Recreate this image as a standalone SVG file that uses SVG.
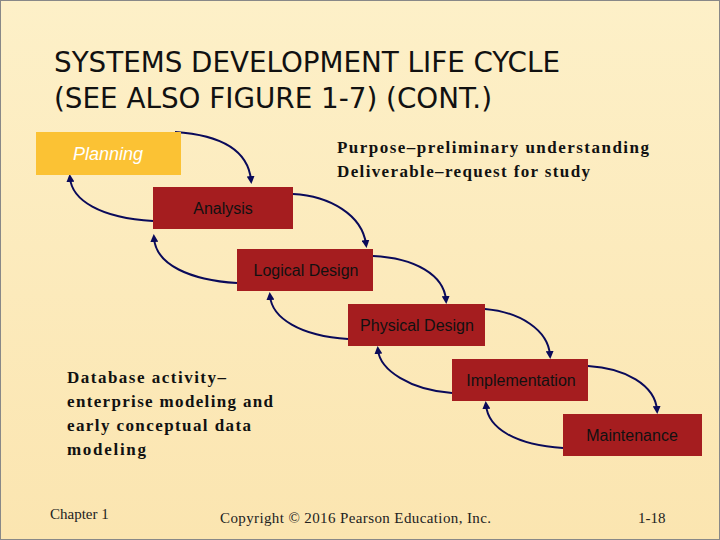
<svg xmlns="http://www.w3.org/2000/svg" width="720" height="540" viewBox="0 0 720 540">
<defs>
<linearGradient id="bg" x1="0" y1="0" x2="0" y2="1"><stop offset="0" stop-color="#fdf0c8"/><stop offset="1" stop-color="#fbe5b0"/></linearGradient>
<marker id="ah" markerWidth="4" markerHeight="4" refX="2" refY="2" orient="auto"><path d="M0,0 L4,2 L0,4 Z" fill="#0a0a5a"/></marker>
</defs>
<style>
.box{fill:#a51d1f}
.bt{font-family:"Liberation Sans",Arial,sans-serif;font-size:16px;fill:#111;text-anchor:middle}
.c{fill:none;stroke:#0a0a5a;stroke-width:2;marker-end:url(#ah)}
.s{font-family:"Liberation Serif","Times New Roman",serif;font-size:17px;font-weight:bold;fill:#111}
.f{font-family:"Liberation Serif","Times New Roman",serif;font-size:15px;fill:#222}
</style>
<rect width="720" height="540" fill="url(#bg)"/>
<rect x="0.5" y="0.5" width="719" height="539" fill="none" stroke="#888" stroke-width="1"/>
<text x="54" y="72" font-family="'DejaVu Sans Condensed','Liberation Sans',Arial,sans-serif" font-size="28" fill="#111" textLength="506" lengthAdjust="spacingAndGlyphs">SYSTEMS DEVELOPMENT LIFE CYCLE</text>
<text x="54" y="108" font-family="'DejaVu Sans Condensed','Liberation Sans',Arial,sans-serif" font-size="28" fill="#111" textLength="438" lengthAdjust="spacingAndGlyphs">(SEE ALSO FIGURE 1-7)  (CONT.)</text>
<g id="connectors">
<path class="c" d="M175,132 C220,135 248,150 251,180"/>
<path class="c" d="M153,221 C100,218 72,200 70,178"/>
<path class="c" d="M293,194 C330,196 362,215 366,244"/>
<path class="c" d="M237,283 C190,280 156,265 154,238"/>
<path class="c" d="M373,256 C415,258 444,275 446,300"/>
<path class="c" d="M348,339 C300,336 272,318 270,296"/>
<path class="c" d="M485,309 C520,312 548,330 550,355"/>
<path class="c" d="M452,393 C410,390 380,370 378,350"/>
<path class="c" d="M588,366 C625,368 655,385 657,410"/>
<path class="c" d="M563,448 C515,445 488,428 486,405"/>
</g>
<g id="planning"><rect x="36" y="132" width="145" height="43" fill="#fbc234"/><text x="108" y="160" font-family="'Liberation Sans',Arial,sans-serif" font-size="18" font-style="italic" fill="#fff" text-anchor="middle">Planning</text></g>
<g id="analysis"><rect class="box" x="153" y="187" width="140" height="42"/><text class="bt" x="223" y="214">Analysis</text></g>
<g id="logical"><rect class="box" x="237" y="249" width="136" height="42"/><text class="bt" x="306" y="276">Logical Design</text></g>
<g id="physical"><rect class="box" x="348" y="304" width="137" height="42"/><text class="bt" x="417" y="331">Physical Design</text></g>
<g id="implementation"><rect class="box" x="452" y="359" width="136" height="42"/><text class="bt" x="521" y="386">Implementation</text></g>
<g id="maintenance"><rect class="box" x="563" y="414" width="139" height="42"/><text class="bt" x="632" y="441">Maintenance</text></g>
<text class="s" x="337" y="153" textLength="312">Purpose–preliminary understanding</text>
<text class="s" x="337" y="177" textLength="253">Deliverable–request for study</text>
<text class="s" x="67" y="383" textLength="159">Database activity–</text>
<text class="s" x="67" y="407" textLength="206">enterprise modeling and</text>
<text class="s" x="67" y="431" textLength="184">early conceptual data</text>
<text class="s" x="67" y="455" textLength="79">modeling</text>
<text class="f" x="50" y="519">Chapter 1</text>
<text class="f" x="220" y="523" textLength="271">Copyright © 2016 Pearson Education, Inc.</text>
<text class="f" x="638" y="523">1-18</text>
</svg>
